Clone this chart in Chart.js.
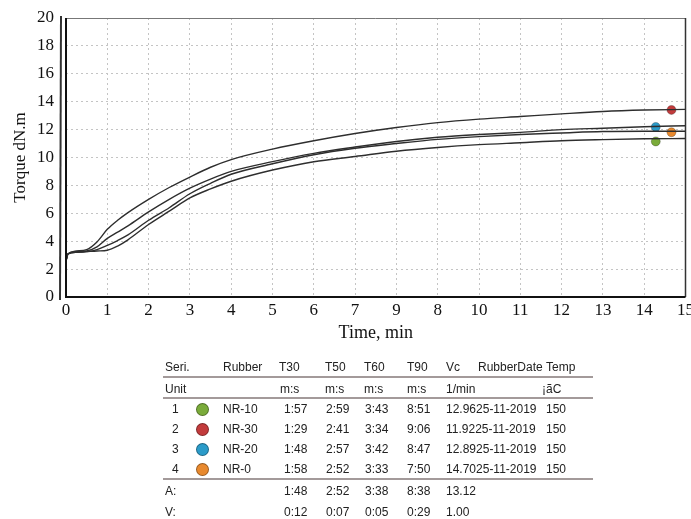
<!DOCTYPE html>
<html>
<head>
<meta charset="utf-8">
<script src="https://cdn.jsdelivr.net/npm/chart.js@4.4.1/dist/chart.umd.min.js"></script>
<style>
  body { margin: 0; background: #fff; width: 691px; height: 519px; overflow: hidden; position: relative; }
  #wrap { position: absolute; left: 0; top: 0; width: 691px; height: 345px; }
  #tbl { position: absolute; left: 0; top: 0; width: 691px; height: 519px; font-family: 'Liberation Sans', Arial, sans-serif; color: #222; }
  #tbl span { position: absolute; white-space: nowrap; line-height: 1; }
  #tbl .rule { position: absolute; height: 2px; background: #a39a9a; }
  #tbl .dot { position: absolute; width: 13px; height: 13px; border-radius: 50%; box-sizing: border-box; border: 1px solid rgba(0,0,0,0.35); }
</style>
</head>
<body>
<div id="wrap"><canvas id="cure" width="691" height="345"></canvas></div>
<div id="tbl"></div>
<script>
// cure curves, torque (dN.m) against time (min)
var times = [0, 0.05, 0.25, 0.5, 0.75, 1, 1.25, 1.5, 2, 2.5, 3, 3.5, 4, 5, 6, 7, 8, 9, 10, 11, 12, 13, 14, 15];
var nr30 = [2.6, 3.1, 3.3, 3.4, 3.95, 4.85, 5.5, 6.05, 7.0, 7.85, 8.6, 9.3, 9.85, 10.6, 11.2, 11.72, 12.15, 12.5, 12.75, 12.94, 13.13, 13.3, 13.4, 13.45];
var nr20 = [2.6, 3.1, 3.25, 3.3, 3.6, 4.2, 4.65, 5.1, 6.1, 7.0, 7.8, 8.45, 9.0, 9.7, 10.3, 10.75, 11.15, 11.45, 11.65, 11.8, 12.0, 12.1, 12.2, 12.28];
var nr0  = [2.6, 3.1, 3.2, 3.25, 3.4, 3.7, 4.05, 4.45, 5.5, 6.4, 7.4, 8.15, 8.8, 9.55, 10.2, 10.66, 11.0, 11.3, 11.5, 11.65, 11.76, 11.86, 11.88, 11.88];
var nr10 = [2.6, 3.1, 3.2, 3.25, 3.3, 3.35, 3.65, 4.1, 5.2, 6.15, 7.1, 7.75, 8.3, 9.1, 9.7, 10.07, 10.45, 10.72, 10.92, 11.06, 11.2, 11.28, 11.34, 11.36];

// coloured markers at the end of each curve
var markerNames = ['NR-10', 'NR-30', 'NR-20', 'NR-0'];
var markerTimes = [14.28, 14.66, 14.28, 14.66];
var markerTorque = [11.15, 13.41, 12.19, 11.81];
var markerColors = ['#7aab3a', '#c23b3c', '#2b9bc9', '#e8892e'];

var yTicks = [0, 2, 4, 6, 8, 10, 12, 14, 16, 18, 20];
var xTickLabels = ['0', '1', '2', '3', '4', '5', '6', '7', '9', '8', '10', '11', '12', '13', '14', '15'];

// summary table
var tableHead = ['Seri.', 'Rubber', 'T30', 'T50', 'T60', 'T90', 'Vc', 'RubberDate', 'Temp'];
var tableUnits = ['Unit', '', 'm:s', 'm:s', 'm:s', 'm:s', '1/min', '', '\u00a1\u00e3C'];
var seriNo = ['1', '2', '3', '4'];
var t30 = ['1:57', '1:29', '1:48', '1:58'];
var t50 = ['2:59', '2:41', '2:57', '2:52'];
var t60 = ['3:43', '3:34', '3:42', '3:33'];
var t90 = ['8:51', '9:06', '8:47', '7:50'];
var vc = ['12.96', '11.92', '12.89', '14.70'];
var testDate = ['25-11-2019', '25-11-2019', '25-11-2019', '25-11-2019'];
var temp = ['150', '150', '150', '150'];
var avgRow = ['A:', '1:48', '2:52', '3:38', '8:38', '13.12'];
var varRow = ['V:', '0:12', '0:07', '0:05', '0:29', '1.00'];

function pts(xs, ys) {
    return xs.map(function(x, i) { return {x: x, y: ys[i]}; });
}

function curve(vals) {
    return {
        type: 'line',
        data: pts(times, vals),
        borderColor: '#2e2e2e',
        borderWidth: 1.4,
        pointRadius: 0,
        cubicInterpolationMode: 'monotone',
        fill: false
    };
}

// frame round the plot, with the doubled left edge
var frame = {
    id: 'frame',
    afterDraw: function(chart) {
        var a = chart.chartArea, c = chart.ctx;
        c.save();
        c.strokeStyle = '#777';
        c.lineWidth = 1;
        c.beginPath(); c.moveTo(a.left, a.top + 0.5); c.lineTo(a.right, a.top + 0.5); c.stroke();
        c.strokeStyle = '#333';
        c.lineWidth = 1.5;
        c.beginPath(); c.moveTo(a.right, a.top); c.lineTo(a.right, a.bottom); c.stroke();
        c.strokeStyle = '#111';
        c.lineWidth = 2;
        c.beginPath(); c.moveTo(a.left, a.bottom); c.lineTo(a.right, a.bottom); c.stroke();
        c.beginPath(); c.moveTo(a.left, a.top); c.lineTo(a.left, a.bottom + 1); c.stroke();
        c.strokeStyle = '#333';
        c.beginPath(); c.moveTo(a.left - 5, a.top - 2); c.lineTo(a.left - 6, a.bottom + 3); c.stroke();
        c.restore();
    }
};

var serif = "'Liberation Serif', 'Times New Roman', serif";

new Chart(document.getElementById('cure'), {
    type: 'scatter',
    data: {
        datasets: [
            curve(nr30), curve(nr20), curve(nr0), curve(nr10),
            {
                type: 'scatter',
                data: pts(markerTimes, markerTorque),
                pointRadius: 4.5,
                pointBackgroundColor: markerColors,
                pointBorderColor: 'rgba(0,0,0,0.25)',
                pointBorderWidth: 1
            }
        ]
    },
    options: {
        responsive: false,
        animation: false,
        layout: { padding: { top: 18, right: 3, left: 0, bottom: 0 } },
        plugins: { legend: { display: false }, tooltip: { enabled: false } },
        scales: {
            x: {
                type: 'linear',
                min: 0, max: 15,
                afterBuildTicks: function(s) { s.ticks = xTickLabels.map(function(_, i) { return {value: i}; }); },
                afterFit: function(s) { s.height = 48; s.paddingLeft = 0; s.paddingRight = 0; },
                ticks: {
                    autoSkip: false, maxRotation: 0, padding: 3, color: '#111',
                    font: { family: serif, size: 17 },
                    callback: function(v, i) { return xTickLabels[i]; }
                },
                grid: { color: '#c4c4c4', lineWidth: 1, drawTicks: false },
                border: { display: false, dash: [2, 3] },
                title: { display: true, text: 'Time, min', color: '#111', font: { family: serif, size: 18 }, padding: { top: 0, bottom: 1 } }
            },
            y: {
                min: 0, max: 20,
                afterBuildTicks: function(s) { s.ticks = yTicks.map(function(v) { return {value: v}; }); },
                afterFit: function(s) { s.width = 66; s.paddingTop = 0; s.paddingBottom = 0; },
                ticks: { padding: 12, color: '#111', font: { family: serif, size: 17 } },
                grid: { color: '#c4c4c4', lineWidth: 1, drawTicks: false },
                border: { display: false, dash: [2, 3] },
                title: { display: true, text: 'Torque dN.m', color: '#111', font: { family: serif, size: 17 }, padding: { top: 10, bottom: 0 } }
            }
        }
    },
    plugins: [frame]
});

// table below the chart
var tbl = document.getElementById('tbl');
var fs = 12;
var headX = [165, 223, 279, 325, 364, 407, 446, 478, 546];
var unitX = [165, 223, 280, 325, 364, 407, 446, 478, 542];
var valX = [284, 326, 365, 407, 446];

function text(s, x, y) {
    var e = document.createElement('span');
    e.textContent = s;
    e.style.left = x + 'px';
    e.style.top = (y - fs / 2) + 'px';
    e.style.fontSize = fs + 'px';
    tbl.appendChild(e);
}
function rule(y) {
    var e = document.createElement('div');
    e.className = 'rule';
    e.style.left = '163px';
    e.style.width = '430px';
    e.style.top = y + 'px';
    tbl.appendChild(e);
}

tableHead.forEach(function(h, i) { text(h, headX[i], 367); });
rule(376);
tableUnits.forEach(function(h, i) { if (h) text(h, unitX[i], 389); });
rule(397);

var rowY = [409, 429, 449, 469];
seriNo.forEach(function(n, i) {
    var y = rowY[i];
    text(n, 172, y);
    var d = document.createElement('div');
    d.className = 'dot';
    d.style.left = '196px';
    d.style.top = (y - 6) + 'px';
    d.style.background = markerColors[i];
    tbl.appendChild(d);
    text(markerNames[i], 223, y);
    text(t30[i], valX[0], y);
    text(t50[i], valX[1], y);
    text(t60[i], valX[2], y);
    text(t90[i], valX[3], y);
    text(vc[i] + testDate[i], valX[4], y);
    text(temp[i], 546, y);
});
rule(478);

[[avgRow, 491], [varRow, 512]].forEach(function(r) {
    var row = r[0], y = r[1];
    text(row[0], 165, y);
    for (var k = 1; k < row.length; k++) text(row[k], valX[k - 1], y);
});
</script>
</body>
</html>
